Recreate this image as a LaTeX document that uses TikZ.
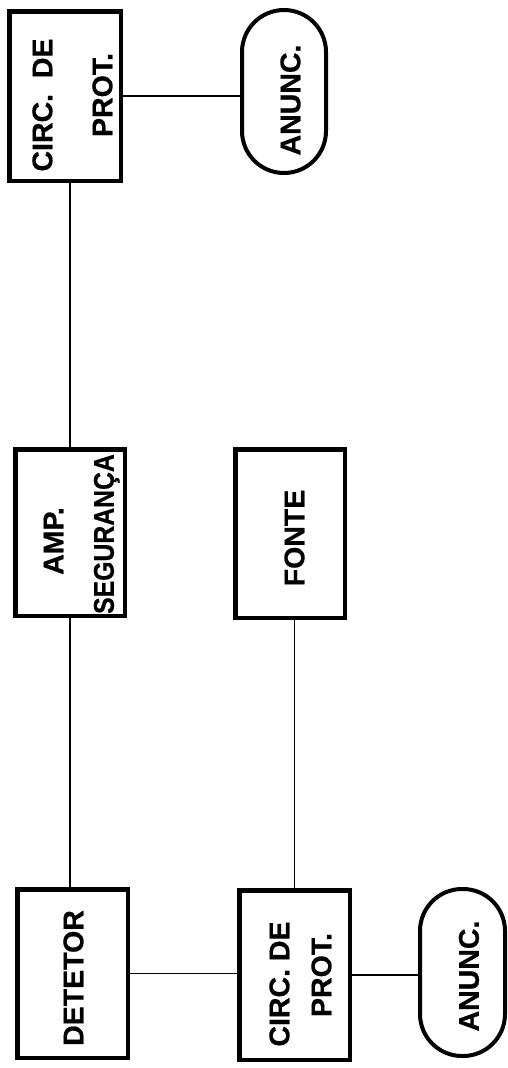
\documentclass[tikz,border=0pt]{standalone}
\usepackage{fontspec}
\setmainfont{Liberation Sans}
\newfontfamily\lblfont[BoldFeatures={FakeBold=0.7}]{Liberation Sans}
\begin{document}
\begin{tikzpicture}[x=1pt,y=-1pt,
  blk/.style={draw,line width=4.5pt,inner sep=0pt},
  pill/.style={draw,line width=4pt,inner sep=0pt,rounded corners=42pt},
  lbl/.style={rotate=90,inner sep=0pt,text height=20.5pt,text depth=0pt,font=\lblfont\fontsize{28.5}{30}\selectfont\bfseries},
  wire/.style={line width=1.8pt}]
\useasboundingbox (0,0) rectangle (508,1068);
% boxes
\node[blk,minimum width=111.5pt,minimum height=169.5pt] (tc) at (65,96) {};
\node[pill,minimum width=84pt,minimum height=163pt] (ta) at (284,91.5) {};
\node[blk,minimum width=109.5pt,minimum height=166.5pt] (amp) at (70,532.5) {};
\node[blk,minimum width=109.5pt,minimum height=168.5pt] (fonte) at (290,533.5) {};
\node[blk,minimum width=110.5pt,minimum height=168.5pt] (det) at (72.5,973.5) {};
\node[blk,minimum width=110.5pt,minimum height=169.5pt] (bc) at (294.5,975) {};
\node[pill,minimum width=85pt,minimum height=167pt] (ba) at (462.5,972.5) {};
% labels
\node[lbl] (tc1) at (42,105) {CIRC.\ \ DE};
\node[lbl] (tc2) at (102,95) {PROT.};
\node[lbl] (tal) at (290,100) {ANUNC.};
\node[lbl] (amp1) at (53,541) {AMP.};
\node[lbl] (amp2) at (103.5,534) {\scalebox{0.87}[1]{SEGURANÇA}};
\node[lbl] (fl) at (294,538) {FONTE};
\node[lbl] (dl) at (73,978) {DETETOR};
\node[lbl] (bc1) at (279,984) {CIRC.\ DE};
\node[lbl] (bc2) at (321,975) {PROT.};
\node[lbl] (bal) at (468.5,976) {ANUNC.};
% connectors
\draw[wire] (tc.east) -- (tc.east -| ta.west);
\draw[wire] (tc.south -| amp.north) -- (amp.north);
\draw[wire] (amp.south) -- (amp.south |- det.north);
\draw[wire] (bc.north |- fonte.south) -- (bc.north);
\draw[wire] (det.east) -- (det.east -| bc.west);
\draw[wire] (bc.east) -- (bc.east -| ba.west);
\end{tikzpicture}
\end{document}
